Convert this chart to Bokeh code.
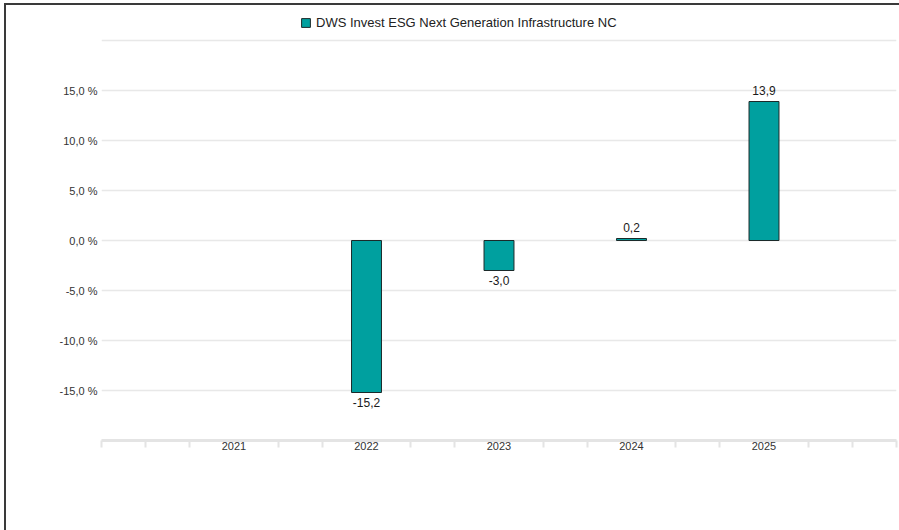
from bokeh.plotting import figure
from bokeh.models import (ColumnDataSource, FixedTicker, Legend, LegendItem,
                          Range1d, LabelSet)
from bokeh.embed import file_html
from bokeh.resources import INLINE
from bokeh.core.properties import value

# ---------------- data ----------------
series_name = "DWS Invest ESG Next Generation Infrastructure NC"
axis_years = [2021, 2022, 2023, 2024, 2025]
bar_years = [2022, 2023, 2024, 2025]
bar_values = [-15.2, -3.0, 0.2, 13.9]
y_ticks = [-20, -15, -10, -5, 0, 5, 10, 15, 20]
y_labeled = [-15, -10, -5, 0, 5, 10, 15]

FONT = "Liberation Sans"
TEAL = "#00a09f"
EDGE = "#1b2a2a"


def fmt(v):
    return f"{v:.1f}".replace(".", ",")


p = figure(width=899, height=530, output_backend="svg", toolbar_location=None,
           x_range=Range1d(2020, 2026), y_range=Range1d(-20, 24),
           min_border_left=101, min_border_right=3, min_border_top=0,
           min_border_bottom=90)
p.outline_line_color = None
p.background_fill_alpha = 0
p.border_fill_alpha = 0
p.styles = {
    "background": "linear-gradient(#3a3a3a,#3a3a3a) 4px 3px / 2px 527px no-repeat,"
                  " linear-gradient(#3a3a3a,#3a3a3a) 4px 3px / 895px 2px no-repeat, white",
}

src = ColumnDataSource(dict(x=bar_years, top=bar_values))
r = p.vbar(x="x", top="top", bottom=0, width=0.226, source=src,
           fill_color=TEAL, line_color=EDGE, line_width=1)

pos = [(x, v) for x, v in zip(bar_years, bar_values) if v >= 0]
neg = [(x, v) for x, v in zip(bar_years, bar_values) if v < 0]
pos_src = ColumnDataSource(dict(x=[a for a, _ in pos], y=[b for _, b in pos],
                                t=[fmt(b) for _, b in pos]))
neg_src = ColumnDataSource(dict(x=[a for a, _ in neg], y=[b for _, b in neg],
                                t=[fmt(b) for _, b in neg]))
p.add_layout(LabelSet(x="x", y="y", text="t", source=pos_src, y_offset=7,
                      text_align="center", text_baseline="alphabetic",
                      text_font=value(FONT), text_font_size="12px",
                      text_color="#1a1a1a"))
p.add_layout(LabelSet(x="x", y="y", text="t", source=neg_src, y_offset=-5,
                      text_align="center", text_baseline="top",
                      text_font=value(FONT), text_font_size="12px",
                      text_color="#1a1a1a"))

# ---------------- axes ----------------
p.yaxis.ticker = FixedTicker(ticks=y_ticks)
p.yaxis.major_label_overrides = {t: (fmt(t) + " %") if t in y_labeled else ""
                                 for t in y_ticks}
p.yaxis.axis_line_color = None
p.yaxis.major_tick_line_color = None
p.yaxis.minor_tick_line_color = None
p.yaxis.major_tick_out = 0
p.yaxis.minor_tick_out = 0
p.yaxis.major_tick_in = 0
p.yaxis.minor_tick_in = 0
p.yaxis.major_label_standoff = 4
p.yaxis.major_label_text_font = FONT
p.yaxis.major_label_text_font_size = "11px"
p.yaxis.major_label_text_color = "#333333"

minor = [2020 + k / 3 for k in range(19) if k % 3 != 0 or k in (0, 18)]
p.xaxis.ticker = FixedTicker(ticks=axis_years, minor_ticks=minor)
p.xaxis.major_label_overrides = {y: str(y) for y in axis_years}
p.xaxis.axis_line_color = "#e4e4e4"
p.xaxis.axis_line_width = 3
p.xaxis.major_tick_line_color = None
p.xaxis.major_tick_out = 0
p.xaxis.major_tick_in = 0
p.xaxis.minor_tick_in = 0
p.xaxis.minor_tick_out = 7
p.xaxis.minor_tick_line_color = "#e4e4e4"
p.xaxis.minor_tick_line_width = 2
p.xaxis.major_label_standoff = -6
p.xaxis.major_label_text_font = FONT
p.xaxis.major_label_text_font_size = "11px"
p.xaxis.major_label_text_color = "#333333"

p.xgrid.visible = False
p.ygrid.grid_line_color = "#e8e8e8"
p.ygrid.grid_line_width = 1.5

# ---------------- legend ----------------
legend = Legend(items=[LegendItem(label=series_name, renderers=[r])],
                location=(199, 410), padding=0, margin=0, spacing=0,
                border_line_color=None, background_fill_alpha=0,
                glyph_width=11, glyph_height=11, label_standoff=5,
                label_height=16, label_text_font=FONT,
                label_text_font_size="13px", label_text_color="#222222")
p.add_layout(legend)

open("out.html", "w").write(file_html(p, INLINE))
